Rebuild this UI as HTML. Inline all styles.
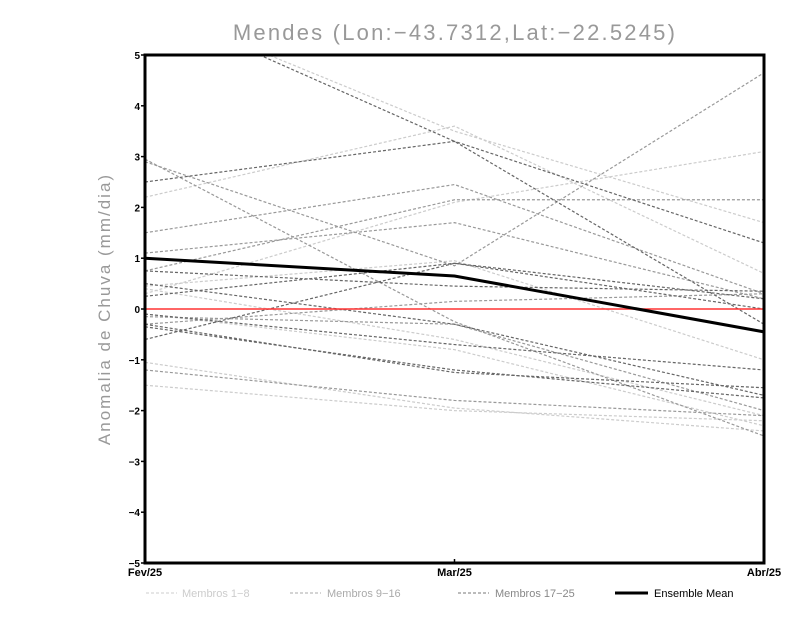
<!DOCTYPE html>
<html><head><meta charset="utf-8"><style>
body{margin:0;background:#fff;}
svg{display:block;font-family:"Liberation Sans",sans-serif;}
</style></head><body>
<svg id="chart" width="800" height="618">
<text x="455" y="40" text-anchor="middle" font-size="22" fill="#999" letter-spacing="2.2">Mendes (Lon:−43.7312,Lat:−22.5245)</text>
<text transform="translate(110,309) rotate(-90)" text-anchor="middle" font-size="17" fill="#999" letter-spacing="2">Anomalia de Chuva (mm/dia)</text>
<g id="lines"></g>
<g id="axes"></g>
<g>
<g><line x1="146" y1="593" x2="177" y2="593" stroke="#ccc" stroke-dasharray="3,2"/><text x="182" y="597" font-size="11" fill="#ccc">Membros 1−8</text></g>
<g><line x1="290" y1="593" x2="321" y2="593" stroke="#aaa" stroke-dasharray="3,2"/><text x="327" y="597" font-size="11" fill="#aaa">Membros 9−16</text></g>
<g><line x1="458" y1="593" x2="489" y2="593" stroke="#777" stroke-dasharray="3,2"/><text x="495" y="597" font-size="11" fill="#888">Membros 17−25</text></g>
<g><line x1="615" y1="593" x2="648" y2="593" stroke="#000" stroke-width="3"/><text x="654" y="597" font-size="11" fill="#000">Ensemble Mean</text></g>
</g>
</svg>
<script>
const categories = ["Fev/25","Mar/25","Abr/25"];
const yTicks = [-5,-4,-3,-2,-1,0,1,2,3,4,5];
const lightSeries = [
 [6.0,3.5,1.7],[2.2,3.6,0.7],[0.3,2.1,3.1],[0.45,0.95,-1.0],
 [0.4,-0.6,-2.1],[-1.05,-1.95,-2.4],[-1.5,-2.0,-2.2],[-0.1,-0.8,-2.3]
];
const mediumSeries = [
 [2.95,-0.25,-2.5],[2.9,0.85,4.65],[1.5,2.45,0.3],[1.1,1.7,0.2],
 [0.75,2.15,2.15],[-0.3,0.15,0.3],[-0.15,-0.3,-2.0],[-1.2,-1.8,-2.1]
];
const darkSeries = [
 [6.0,3.3,-0.3],[2.5,3.3,1.3],[0.75,0.45,0.35],[0.25,0.9,0.2],
 [-0.6,0.9,0.0],[-0.35,-1.2,-1.75],[-0.3,-1.25,-1.55],[0.5,-0.3,-1.7],[-0.1,-0.7,-1.2]
];
const meanSeries = [1.0,0.65,-0.45];
const NS="http://www.w3.org/2000/svg";
const X0=145,X1=764,Y0=55,Y1=563;
const xs=i=>X0+(X1-X0)*i/(categories.length-1);
const ys=v=>Y1-(v+5)/10*(Y1-Y0);
function mk(t,a,p){const e=document.createElementNS(NS,t);for(const k in a)e.setAttribute(k,a[k]);p.appendChild(e);return e;}
const svg=document.getElementById('chart');
const defs=mk('defs',{},svg);
const cp=mk('clipPath',{id:'c'},defs);mk('rect',{x:X0,y:Y0,width:X1-X0,height:Y1-Y0},cp);
const g=document.getElementById('lines');g.setAttribute('clip-path','url(#c)');
function draw(arr,color,name){arr.forEach((s,k)=>{
 const p=mk('polyline',{points:s.map((v,i)=>xs(i)+','+ys(v)).join(' '),fill:'none',stroke:color,'stroke-width':1.2,'stroke-dasharray':'3,2'},g);
 
 
});}
draw(lightSeries,'#ccc','light-member');
draw(mediumSeries,'#999','medium-member');
draw(darkSeries,'#666','dark-member');
const z=mk('line',{x1:X0,x2:X1,y1:ys(0),y2:ys(0),stroke:'#f33','stroke-width':1.5},g);


const m=mk('polyline',{points:meanSeries.map((v,i)=>xs(i)+','+ys(v)).join(' '),fill:'none',stroke:'#000','stroke-width':3},g);


const ax=document.getElementById('axes');
const fr=mk('rect',{x:X0,y:Y0,width:X1-X0,height:Y1-Y0,fill:'none',stroke:'#000','stroke-width':3},ax);


yTicks.forEach(v=>{
 mk('line',{x1:X0-4,x2:X0,y1:ys(v),y2:ys(v),stroke:'#000','stroke-width':1.5},ax);
 const t=mk('text',{x:X0-5,y:ys(v)+4,'text-anchor':'end','font-size':10,'font-weight':'bold',fill:'#000'},ax);
 t.textContent=v<0?'−'+(-v):String(v);
 
 
});
categories.forEach((c,i)=>{
 mk('line',{x1:xs(i),x2:xs(i),y1:Y1,y2:Y1-4,stroke:'#000','stroke-width':1.5},ax);
 const t=mk('text',{x:xs(i),y:Y1+13,'text-anchor':'middle','font-size':11,'font-weight':'bold',fill:'#000'},ax);
 t.textContent=c;
 
 
});
</script>
</body></html>
